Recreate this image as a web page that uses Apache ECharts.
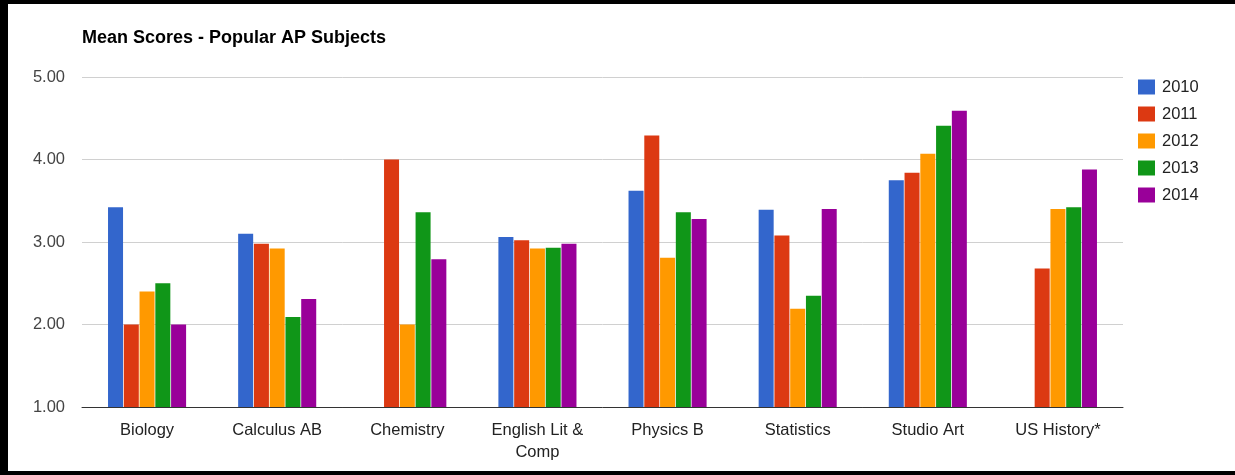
<!DOCTYPE html>
<html>
<head>
<meta charset="utf-8">
<script src="https://cdn.jsdelivr.net/npm/echarts@6/dist/echarts.min.js"></script>
<style>
  html, body { margin: 0; padding: 0; background: #000; width: 1235px; height: 475px; overflow: hidden; }
  #chart { position: absolute; left: 8px; top: 4px; width: 1227px; height: 467px; background: #fff; }
</style>
</head>
<body>
<div id="chart"></div>
<script>
const categories = ['Biology', 'Calculus AB', 'Chemistry', 'English Lit &\nComp', 'Physics B', 'Statistics', 'Studio Art', 'US History*'];
const seriesNames = ['2010', '2011', '2012', '2013', '2014'];
const colors = ['#3366cc', '#dc3912', '#ff9900', '#109618', '#990099'];
const v2010 = [3.42, 3.10, null, 3.06, 3.62, 3.39, 3.75, null];
const v2011 = [2.00, 2.98, 4.00, 3.02, 4.29, 3.08, 3.84, 2.68];
const v2012 = [2.40, 2.92, 2.00, 2.92, 2.81, 2.19, 4.07, 3.40];
const v2013 = [2.50, 2.09, 3.36, 2.93, 3.36, 2.35, 4.41, 3.42];
const v2014 = [2.00, 2.31, 2.79, 2.98, 3.28, 3.40, 4.59, 3.88];
const yTicks = [1, 2, 3, 4, 5];
const values = [v2010, v2011, v2012, v2013, v2014];

const chart = echarts.init(document.getElementById('chart'), null, { renderer: 'canvas' });
const font = 'Liberation Sans, Arial, sans-serif';
chart.setOption({
  animation: false,
  backgroundColor: '#fff',
  title: {
    text: 'Mean Scores - Popular AP Subjects',
    left: 74, top: 25, padding: 0,
    textStyle: { fontFamily: font, fontSize: 18, fontWeight: 'bold', color: '#000' }
  },
  legend: {
    orient: 'vertical',
    left: 1130, top: 74.5,
    padding: 0,
    itemWidth: 17, itemHeight: 15, itemGap: 10,
    icon: 'rect',
    data: seriesNames,
    textStyle: { fontFamily: font, fontSize: 16.5, color: '#222', padding: [0, 0, 0, 2] }
  },
  grid: { left: 74, right: 112, top: 73, bottom: 64, containLabel: false },
  xAxis: {
    type: 'category',
    data: categories,
    axisTick: { show: false },
    axisLine: { lineStyle: { color: '#333', width: 1 } },
    axisLabel: { fontFamily: font, fontSize: 16.5, color: '#222', margin: 12, lineHeight: 22, interval: 0 }
  },
  yAxis: {
    type: 'value',
    min: yTicks[0], max: yTicks[yTicks.length - 1], interval: 1,
    axisLine: { show: false },
    axisTick: { show: false },
    splitLine: { lineStyle: { color: '#d0d0d0', width: 1 } },
    axisLabel: { fontFamily: font, fontSize: 16.5, color: '#444', margin: 17, formatter: v => v.toFixed(2) }
  },
  series: seriesNames.map((name, i) => ({
    name: name,
    type: 'bar',
    data: values[i],
    barCategoryGap: '40%',
    barGap: '5%',
    itemStyle: { color: colors[i] }
  })),
  color: colors
});
</script>
</body>
</html>
